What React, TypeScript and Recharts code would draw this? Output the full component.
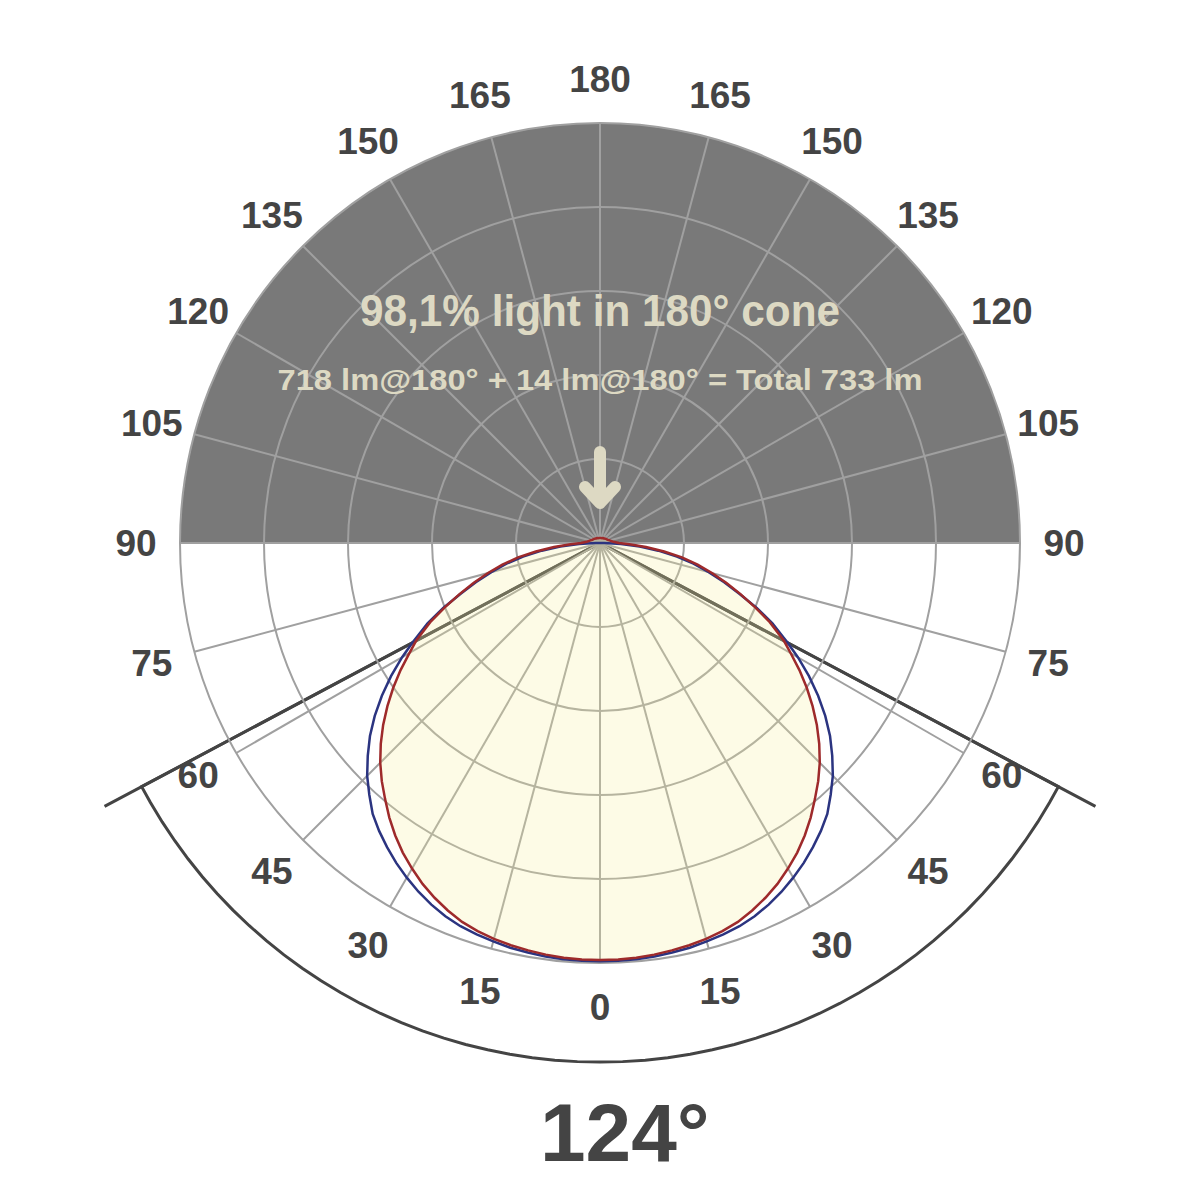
import { RadarChart, Radar, PolarGrid, PolarAngleAxis, PolarRadiusAxis } from 'recharts'

// angle from nadir (deg) and relative intensity (% of max) per plane
const THETA = [
  0, 2.5, 5, 7.5, 10, 12.5, 15, 17.5, 20, 22.5, 25, 27.5, 30, 32.5, 35, 37.5, 40, 42.5, 45, 47.5, 50, 52.5, 55, 57.5, 60,
  62, 65, 67.5, 70, 72.5, 75, 77.5, 80, 82.5, 85, 87.5, 90,
  95, 100, 105, 110, 115, 120, 125, 130, 135, 140, 145, 150, 155, 160, 165, 170, 175, 180,
]
const RED = [
  99.3, 99.25, 99.1, 98.85, 98.5, 98.1, 97.6, 96.9, 96.0, 94.7, 93.2, 91.5, 89.5, 87.4, 85.0, 82.4, 79.6, 76.9, 74.0, 70.8, 67.4, 63.8, 60.1, 56.3, 52.4,
  49.6, 44.6, 40.0, 35.6, 31.5, 27.6, 23.8, 19.8, 15.4, 11.0, 7.0, 4.5,
  3.2, 2.7, 2.4, 2.1, 1.9, 1.8, 1.7, 1.6, 1.5, 1.4, 1.4, 1.3, 1.3, 1.2, 1.2, 1.2, 1.2, 1.2,
]
const BLUE = [
  99.6, 99.55, 99.5, 99.3, 99.0, 98.7, 98.2, 97.7, 97.1, 96.2, 95.0, 93.6, 92.0, 90.3, 88.4, 86.4, 84.2, 81.3, 78.4, 75.0, 71.5, 67.6, 63.4, 59.0, 54.4,
  50.6, 45.3, 40.4, 35.3, 31.0, 26.8, 22.8, 18.6, 14.0, 9.5, 5.0, 1.0,
  0, 0, 0, 0, 0, 0, 0, 0, 0, 0, 0, 0, 0, 0, 0, 0, 0, 0,
]
const TICK_ANGLES = [0, 15, 30, 45, 60, 75, 90, 105, 120, 135, 150, 165, 180, 195, 210, 225, 240, 255, 270, 285, 300, 315, 330, 345]

const BEAM_ANGLE = 124
const UPPER_FILL = 100
const BEAM_REACH = 133.6
const ARC_REACH = 123.6
const TITLE = '98,1% light in 180° cone'
const SUBTITLE = '718 lm@180° + 14 lm@180° = Total 733 lm'

const W = 1184
const H = 1184
const CX = 592
const CY = 535
const R = 420
const LABEL_R = 464
const FONT = "'Liberation Sans', Arial, Helvetica, sans-serif"

const half = THETA.map((t, i) => ({
  t,
  red: RED[i],
  blue: BLUE[i],
  dark: t >= 90 ? UPPER_FILL : 0,
  beam: t === BEAM_ANGLE / 2 ? BEAM_REACH : 0,
  arc: t <= BEAM_ANGLE / 2 ? ARC_REACH : 0,
}))

const rows = [
  ...half.map(d => ({ ...d, angle: d.t })),
  ...half.slice(1, -1).reverse().map(d => ({ ...d, angle: 360 - d.t })),
]

function AngleTick(props: any) {
  const { payload } = props
  const a = (-payload.coordinate * Math.PI) / 180
  const x = CX + LABEL_R * Math.cos(a)
  const y = CY + LABEL_R * Math.sin(a)
  const v = payload.value <= 180 ? payload.value : 360 - payload.value
  return (
    <text x={x} y={y + 13} textAnchor="middle" fill="#444" fontSize={37} fontWeight="bold" fontFamily={FONT}>
      {v}
    </text>
  )
}

const margin = { top: 0, right: 0, bottom: 0, left: 0 }
const layer = { position: 'absolute' as const, left: 0, top: 0 }

export default function App() {
  return (
    <div style={{ position: 'relative', width: W, height: H, background: '#fff' }}>
      <div style={layer}>
        <RadarChart width={W} height={H} data={rows} cx={CX} cy={CY} outerRadius={R * 1.4} margin={margin} startAngle={-90} endAngle={270}>
          <PolarAngleAxis dataKey="angle" type="number" domain={[0, 360]} ticks={TICK_ANGLES} tick={false} tickLine={false} axisLine={false} />
          <PolarRadiusAxis domain={[0, 140]} tick={false} axisLine={false} />
          <Radar dataKey="dark" stroke="none" fill="#797979" fillOpacity={1} isAnimationActive={false} />
          <Radar dataKey="arc" stroke="#444" strokeWidth={3} fill="none" fillOpacity={0} isAnimationActive={false} />
          <Radar dataKey="beam" stroke="#444" strokeWidth={3} fill="none" fillOpacity={0} isAnimationActive={false} />
        </RadarChart>
      </div>
      <div style={layer}>
        <RadarChart width={W} height={H} data={rows} cx={CX} cy={CY} outerRadius={R} margin={margin} startAngle={-90} endAngle={270}>
          <PolarGrid gridType="circle" stroke="#a0a0a0" strokeWidth={2} />
          <PolarAngleAxis dataKey="angle" type="number" domain={[0, 360]} ticks={TICK_ANGLES} tick={AngleTick} tickLine={false} axisLine={false} />
          <PolarRadiusAxis domain={[0, 100]} tickCount={6} tick={false} axisLine={false} />
          <Radar dataKey="red" stroke="none" fill="#f7ef9b" fillOpacity={0.25} isAnimationActive={false} />
          <Radar dataKey="blue" stroke="#2b3480" strokeWidth={2.5} fill="none" fillOpacity={0} isAnimationActive={false} />
          <Radar dataKey="red" stroke="#9e2a2b" strokeWidth={2.5} fill="none" fillOpacity={0} isAnimationActive={false} />
        </RadarChart>
      </div>
      <svg width={W} height={H} style={{ ...layer, pointerEvents: 'none' }}>
        <text x={CX} y={318} textAnchor="middle" fill="#ddd9c3" fontSize={45} fontWeight="bold" fontFamily={FONT} textLength={480} lengthAdjust="spacingAndGlyphs">
          {TITLE}
        </text>
        <text x={CX} y={382} textAnchor="middle" fill="#ddd9c3" fontSize={30} fontWeight="bold" fontFamily={FONT} textLength={645} lengthAdjust="spacingAndGlyphs">
          {SUBTITLE}
        </text>
        <g stroke="#ddd9c3" strokeWidth={12} strokeLinecap="round" strokeLinejoin="round" fill="none">
          <line x1={CX} y1={444} x2={CX} y2={494} />
          <polyline points={`${CX - 15},${479} ${CX},${495} ${CX + 15},${479}`} />
        </g>
        <text x={532} y={1153} fill="#444" fontSize={82} fontWeight="bold" fontFamily={FONT}>
          {BEAM_ANGLE}°
        </text>
      </svg>
    </div>
  )
}
